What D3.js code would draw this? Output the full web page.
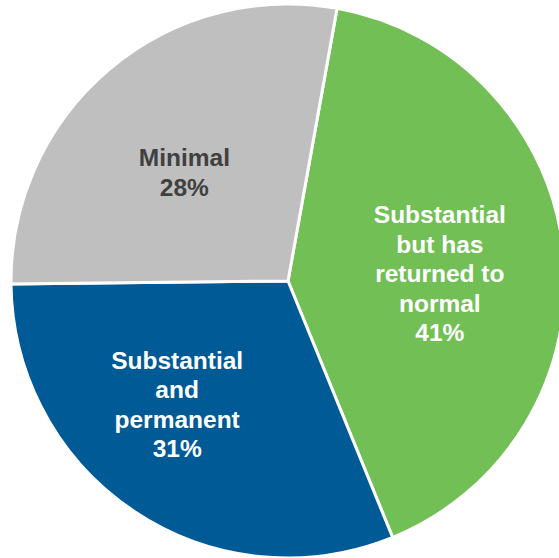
<!DOCTYPE html>
<html>
<head>
<meta charset="utf-8">
<script src="https://cdn.jsdelivr.net/npm/d3@7"></script>
<style>
  html, body { margin: 0; padding: 0; background: #fff; }
  svg { display: block; }
</style>
</head>
<body>
<svg id="chart" width="559" height="558"></svg>
<script>
const categories = ["Substantial but has returned to normal", "Substantial and permanent", "Minimal"];
const lineBreaks = [["Substantial", "but has", "returned to", "normal"], ["Substantial", "and", "permanent"], ["Minimal"]];
const values = [41, 31, 28];
const colors = ["#72bf56", "#005a96", "#bfbfbf"];
const textColors = ["#ffffff", "#ffffff", "#404040"];

const width = 559;
const height = 558;
const cx = 288;
const cy = 281;
const radius = 277;
const startAngle = 10.2 * Math.PI / 180;
const fontSize = 24.5;
const lineHeight = 29.5;

// label anchor tweaks (angle offset in degrees, radius)
const labelLayout = [
  { dAngle: 3.3, r: 152 },
  { dAngle: 8.3, r: 166 },
  { dAngle: -3.5, r: 150 },
];

const svg = d3.select("#chart");
const g = svg.append("g").attr("transform", `translate(${cx},${cy})`);

const pie = d3.pie()
  .sort(null)
  .value((d) => d)
  .startAngle(startAngle)
  .endAngle(startAngle + 2 * Math.PI);

const arcs = pie(values);

const arc = d3.arc().innerRadius(0).outerRadius(radius);

g.selectAll("path")
  .data(arcs)
  .enter()
  .append("path")
  .attr("d", arc)
  .attr("fill", (d, i) => colors[i])
  .attr("stroke", "#ffffff")
  .attr("stroke-width", 3)
  .attr("stroke-linejoin", "miter");

arcs.forEach((d, i) => {
  const mid = (d.startAngle + d.endAngle) / 2 + labelLayout[i].dAngle * Math.PI / 180;
  const r = labelLayout[i].r;
  const x = r * Math.sin(mid);
  const y = -r * Math.cos(mid);
  const lines = lineBreaks[i].concat([`${values[i]}%`]);
  const blockHeight = (lines.length - 1) * lineHeight;
  const text = g.append("text")
    .attr("text-anchor", "middle")
    .attr("fill", textColors[i])
    .style("font-family", "'Liberation Sans', Arial, sans-serif")
    .style("font-weight", "bold")
    .style("font-size", fontSize + "px");
  lines.forEach((line, j) => {
    text.append("tspan")
      .attr("x", x)
      .attr("y", y - blockHeight / 2 + j * lineHeight + fontSize * 0.35)
      .text(line);
  });
});
</script>
</body>
</html>
